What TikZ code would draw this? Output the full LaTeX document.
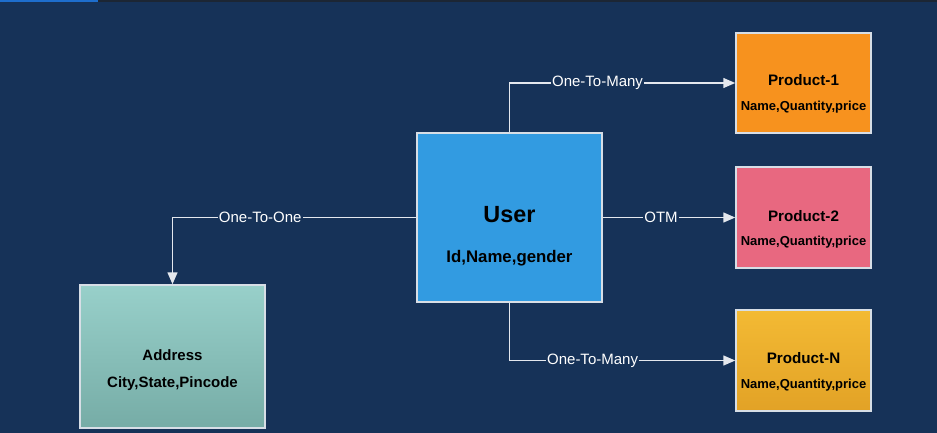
\documentclass[tikz,border=0pt]{standalone}
\usepackage{fontspec}
\setmainfont{Liberation Sans}
\usetikzlibrary{arrows.meta}
\definecolor{bg}{RGB}{22,50,88}
\definecolor{linec}{RGB}{228,232,238}
\definecolor{userc}{RGB}{50,155,225}
\definecolor{p1c}{RGB}{247,146,30}
\definecolor{p2c}{RGB}{232,104,128}
\definecolor{pntop}{RGB}{243,186,52}
\definecolor{pnbot}{RGB}{226,162,38}
\definecolor{adtop}{RGB}{152,208,202}
\definecolor{adbot}{RGB}{118,172,166}
\definecolor{boxline}{RGB}{215,222,230}
\definecolor{barblue}{RGB}{30,110,205}
\definecolor{bardark}{RGB}{28,38,52}
\tikzset{
  box/.style={draw=boxline, line width=1.5pt, rectangle, inner sep=0pt},
  conn/.style={draw=linec, line width=1.5pt, -{Triangle[length=12pt,width=10pt]}},
  lbl/.style={fill=bg, text=white, inner sep=1pt, font=\fontsize{15}{17}\selectfont},
  title/.style={text=black, font=\bfseries\fontsize{15.2}{17}\selectfont},
  attr/.style={text=black, font=\bfseries\fontsize{13}{15}\selectfont},
}
\begin{document}
\begin{tikzpicture}[x=1pt,y=-1pt]
\fill[bg] (0,0) rectangle (937,433);
\useasboundingbox (0,0) rectangle (937,433);
\fill[barblue] (0,0) rectangle (98,2);
\fill[bardark] (98,0) rectangle (937,2);

\node[box, fill=userc, minimum width=185pt, minimum height=169pt] (user) at (509.5,217.5) {};
\node[box, fill=p1c, minimum width=135pt, minimum height=100pt] (p1) at (803.5,83) {};
\node[box, fill=p2c, minimum width=135pt, minimum height=101pt] (p2) at (803.5,217.5) {};
\node[box, top color=pntop, bottom color=pnbot, minimum width=135pt, minimum height=101pt] (pn) at (803.5,360.5) {};
\node[box, top color=adtop, bottom color=adbot, minimum width=185pt, minimum height=143pt] (addr) at (172.5,356.5) {};

\node[text=black, font=\bfseries\fontsize{23.4}{26}\selectfont] (usert) at (509.5,215) {User};
\node[text=black, font=\bfseries\fontsize{16.8}{19}\selectfont] (usera) at (509.5,258) {Id,Name,gender};

\node[title] (p1t) at (803.5,80) {Product-1};
\node[attr] (p1a) at (803.5,107) {Name,Quantity,price};
\node[title] (p2t) at (803.5,216) {Product-2};
\node[attr] (p2a) at (803.5,242) {Name,Quantity,price};
\node[title] (pnt) at (803.5,358) {Product-N};
\node[attr] (pna) at (803.5,385) {Name,Quantity,price};

\node[text=black, font=\bfseries\fontsize{15}{18}\selectfont] (addrt) at (172.5,355) {Address};
\node[text=black, font=\bfseries\fontsize{15}{18}\selectfont] (addra) at (172.5,384) {City,State,Pincode};

\draw[conn] (user.west) -| node[lbl, pos=0.32] {One-To-One} (addr.north);
\draw[conn] (user.north) |- node[lbl, pos=0.695] {One-To-Many} (p1.west);
\draw[conn] (user.east) -- node[lbl, pos=0.44] {OTM} (p2.west);
\draw[conn] (user.south) |- node[lbl, pos=0.684] {One-To-Many} (pn.west);
\end{tikzpicture}
\end{document}
